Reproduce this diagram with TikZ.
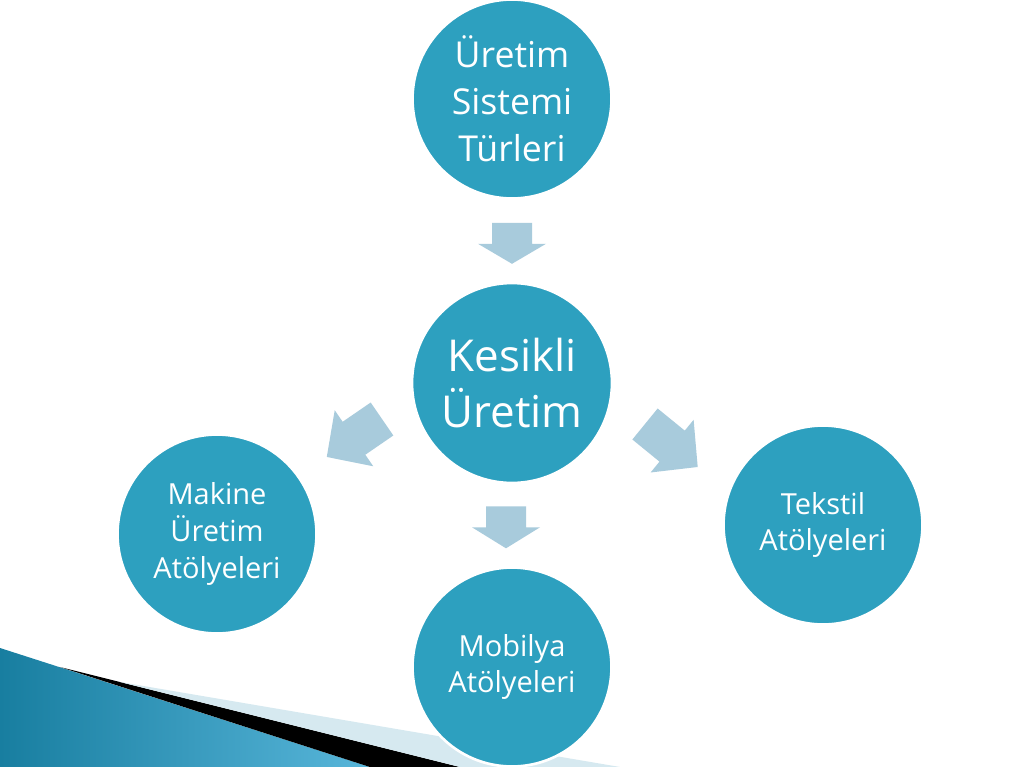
\documentclass[tikz,border=0pt]{standalone}
\usepackage{fontspec}
\setmainfont{Open Sans}
\usetikzlibrary{calc}
\definecolor{bubbleblue}{RGB}{45,160,191}
\definecolor{arrowblue}{RGB}{168,203,220}
\definecolor{palestripe}{RGB}{214,233,240}
\definecolor{wedgedark}{RGB}{24,126,160}
\definecolor{wedgelight}{RGB}{88,182,218}
\tikzset{
  bubble/.style={circle, fill=bubbleblue, draw=white, line width=1.5pt, text=white,
    align=center, inner sep=0pt, minimum size=3.98cm},
  toptext/.style={font=\fontsize{20.3}{26.8}\selectfont},
  midtext/.style={font=\fontsize{25}{31.7}\selectfont},
  smalltext/.style={font=\fontsize{16.5}{21}\selectfont},
  pics/blockarrow/.style args={#1/#2}{code={
    \fill[arrowblue] (0,-20) -- (#1,-20) -- (#1,-34) -- (#2,0) -- (#1,34) -- (#1,20) -- (0,20) -- cycle;}},
}
\begin{document}
\begin{tikzpicture}[x=0.02cm, y=-0.02cm]
      \useasboundingbox [fill=white] (0,0) rectangle (1024,767);

      % corner stripes
      \shade [left color=wedgedark, right color=wedgelight] (0,648) -- (370,767) -- (0,767) -- cycle;
      \fill [black] (60,667) -- (460,767) -- (370,767) -- cycle;
      \fill [palestripe] (120,682) -- (620,767) -- (460,767) -- cycle;

      \node [bubble, toptext]   (types)  at (512,99)  {Üretim\\Sistemi\\Türleri};
      \node [bubble, midtext, minimum size=4cm] (batch) at (512,383) {Kesikli\\Üretim};
      \node [bubble, smalltext] (machine) at (217,534) {Makine\\Üretim\\Atölyeleri};
      \node [bubble, smalltext] (textile) at (823,525) {Tekstil\\Atölyeleri};
      \node [bubble, smalltext] (furniture) at (512,667) {Mobilya\\Atölyeleri};

      \pic [rotate=-90]   at ($(types.south)+(0,23)$)   {blockarrow=21/41};
      \pic [rotate=214.5] at ($(batch)+(-130,36)$)     {blockarrow=34/67};
      \pic [rotate=-39.2] at ($(batch)+(133,41)$)      {blockarrow=35/68};
      \pic [rotate=-90]   at ($(batch.south)+(-6,22)$) {blockarrow=21/42};
    \end{tikzpicture}
\end{document}
